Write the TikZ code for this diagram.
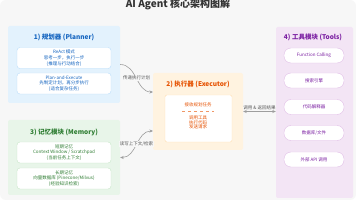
\documentclass[tikz,border=0pt]{standalone}
\usepackage{fontspec}
\setmainfont{Noto Sans CJK SC}
\usetikzlibrary{arrows.meta,positioning}

\definecolor{canvas}{HTML}{F7F7F7}
\definecolor{titlegray}{HTML}{333333}
\definecolor{planbg}{HTML}{E3F2FD}
\definecolor{planline}{HTML}{BBDEFB}
\definecolor{plantext}{HTML}{1565C0}
\definecolor{membg}{HTML}{E8F5E9}
\definecolor{memline}{HTML}{C8E6C9}
\definecolor{memtext}{HTML}{2E7D32}
\definecolor{exbg}{HTML}{FFF3E0}
\definecolor{exline}{HTML}{FFE0B2}
\definecolor{extext}{HTML}{E65100}
\definecolor{toolbg}{HTML}{F3E5F5}
\definecolor{toolline}{HTML}{E1BEE7}
\definecolor{tooltext}{HTML}{7B1FA2}
\definecolor{flowgray}{HTML}{9E9E9E}
\definecolor{lblgray}{HTML}{555555}

\tikzset{
  panel/.style={rounded corners=2pt, inner sep=0pt},
  ptitle/.style={font=\bfseries\fontsize{6.5}{8}\selectfont},
  card/.style={fill=white, rounded corners=3pt, line width=0.4pt, align=center,
    inner sep=1pt, font=\fontsize{4.5}{5.6}\selectfont},
  pill/.style={card, rounded corners=7pt, minimum width=60pt, minimum height=15pt,
    draw=toolline, text=tooltext},
  flow/.style={-{Stealth[length=3.5pt,width=3pt]}, flowgray, line width=0.6pt},
  lbl/.style={font=\fontsize{4.5}{5.5}\selectfont, text=lblgray, fill=canvas, inner sep=0.5pt}
}

\begin{document}
\begin{tikzpicture}[x=1pt,y=-1pt]
  % canvas
  \fill[white] (0,0) rectangle (356,200);
  \fill[canvas, rounded corners=6pt] (0,0) rectangle (356,200);
  \useasboundingbox (0,0) rectangle (356,200);

  \node[font=\bfseries\fontsize{10}{12}\selectfont, text=titlegray] (title) at (178,4.5) {AI Agent 核心架构图解};

  % panels
  \node[panel, fill=planbg, minimum width=112pt, minimum height=77pt] (planner) at (64,64.5) {};
  \node[panel, fill=membg, minimum width=112pt, minimum height=75pt] (memory) at (64,157.5) {};
  \node[panel, fill=exbg, minimum width=90pt, minimum height=77pt] (executor) at (198,111.5) {};
  \node[panel, fill=toolbg, minimum width=77pt, minimum height=171pt] (tools) at (314.5,112.5) {};

  % 1) planner
  \node[ptitle, text=plantext] (planT) at (64,37) {1) 规划器 (Planner)};
  \node[card, draw=planline, text=plantext, minimum width=94pt, minimum height=21pt] (react) at (64,58)
    {ReAct 模式\\思考一步，执行一步\\(推理与行动结合)};
  \node[card, draw=planline, text=plantext, minimum width=94pt, minimum height=21pt] (planexec) at (64,83.5)
    {Plan-and-Execute\\先制定计划，再分步执行\\(适合复杂任务)};

  % 3) memory
  \node[ptitle, text=memtext] (memT) at (64,132) {3) 记忆模块 (Memory)};
  \node[card, draw=memline, text=memtext, minimum width=94pt, minimum height=21pt] (shortmem) at (64,152.5)
    {短期记忆\\Context Window / Scratchpad\\(当前任务上下文)};
  \node[card, draw=memline, text=memtext, minimum width=94pt, minimum height=21pt] (longmem) at (64,178.5)
    {长期记忆\\向量数据库 (Pinecone/Milvus)\\(经验知识检索)};

  % 2) executor
  \node[ptitle, text=extext] (exT) at (198,84) {2) 执行器 (Executor)};
  \node[card, draw=exline, rounded corners=1.5pt, minimum width=67pt, minimum height=47pt] (exCard) at (198.5,118.5) {};
  \node[card, draw=none, fill=none, text=extext] (exHead) at (198,105) {接收规划任务};
  \draw[extext!60, dashed, line width=0.3pt] (182,111.5) -- (214,111.5);
  \node[card, draw=none, fill=none, text=extext, font=\fontsize{4.5}{4.7}\selectfont] (exSteps) at (198,122.5)
    {调用工具\\执行代码\\发送请求};

  % 4) tools
  \node[ptitle, text=tooltext] (toolT) at (313,37) {4) 工具模块 (Tools)};
  \node[pill] (fcall) at (314,55.5) {Function Calling};
  \node[pill] (search) at (314,80.5) {搜索引擎};
  \node[pill] (interp) at (314,107) {代码解释器};
  \node[pill] (dbfile) at (314,133) {数据库/文件};
  \node[pill] (extapi) at (314,159.5) {外部 API 调用};

  % connectors
  \coordinate (exPlan) at (153,92);
  \coordinate (exMem) at (153,131);
  \draw[flow] (planner.east) to[out=0, in=180] node[lbl] (planL) {传递执行计划} (exPlan);
  \draw[flow, {Stealth[length=3.5pt,width=3pt]}-{Stealth[length=3.5pt,width=3pt]}]
    (memory.east) to[out=0, in=180] node[lbl] (memL) {读写上下文/检索} (exMem);
  \draw[flow, {Stealth[length=3.5pt,width=3pt]}-{Stealth[length=3.5pt,width=3pt]}]
    (executor.east) -- (executor.east -| tools.west) node[lbl, midway, above=1pt] (toolL) {调用 \& 返回结果};
\end{tikzpicture}
\end{document}
